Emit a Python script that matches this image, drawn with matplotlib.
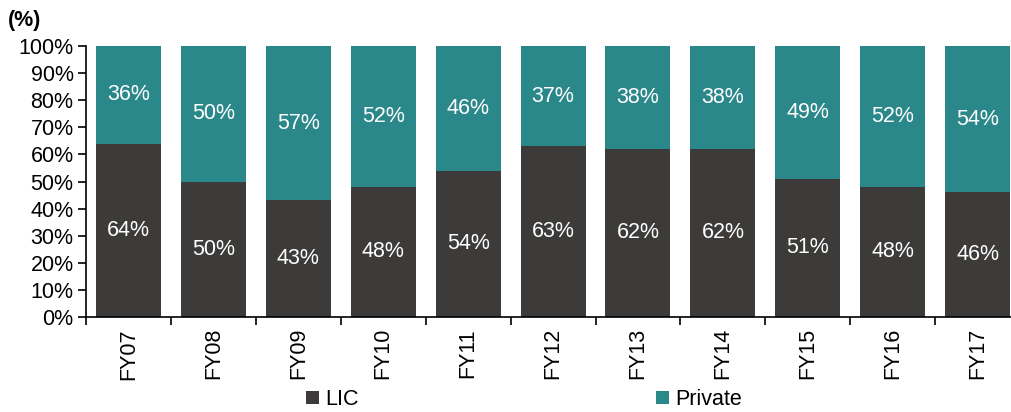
import matplotlib.pyplot as plt
import numpy as np

plt.rcParams['font.family'] = ['Liberation Sans', 'DejaVu Sans']

years = ["FY07", "FY08", "FY09", "FY10", "FY11", "FY12", "FY13", "FY14", "FY15", "FY16", "FY17"]
lic = [64, 50, 43, 48, 54, 63, 62, 62, 51, 48, 46]
private = [36, 50, 57, 52, 46, 37, 38, 38, 49, 52, 54]

c_lic = "#3c3b3a"
c_priv = "#2a878a"
fs = 15.5

fig = plt.figure(figsize=(10.12, 4.12), dpi=100)
ax = fig.add_axes([0.085, 0.2306, 0.923, 0.6577])

x = np.arange(len(years))
b1 = ax.bar(x, lic, width=0.766, color=c_lic, label="LIC")
b2 = ax.bar(x, private, width=0.766, bottom=lic, color=c_priv, label="Private")

for i in range(len(years)):
    ax.text(x[i], lic[i] / 2, f"{lic[i]}%", ha="center", va="center", color="white", fontsize=fs)
    ax.text(x[i], lic[i] + private[i] / 2, f"{private[i]}%", ha="center", va="center", color="white", fontsize=fs)

ax.set_xlim(-0.5, len(years) - 0.5)
ax.set_ylim(0, 100)
ax.set_yticks(np.arange(0, 101, 10))
ax.set_yticklabels([f"{v}%" for v in range(0, 101, 10)], fontsize=fs)
ax.set_xticks(x)
ax.set_xticklabels(years, rotation=90, fontsize=fs)
ax.tick_params(axis="x", which="major", length=0, pad=8)
ax.set_xticks(np.arange(-0.5, len(years), 1), minor=True)
ax.tick_params(axis="x", which="minor", length=6, width=1.2, direction="out")
ax.tick_params(axis="y", length=6, width=1.2, direction="out", pad=3)
ax.spines["top"].set_visible(False)
ax.spines["right"].set_visible(False)
ax.spines["left"].set_linewidth(1.2)
ax.spines["bottom"].set_linewidth(1.2)

fig.text(0.008, 0.95, "(%)", fontsize=fs, fontweight="bold", ha="left", va="center")

fig.legend(handles=[b1, b2], labels=["LIC", "Private"], loc="center", bbox_to_anchor=(0.518, 0.03),
           ncol=2, frameon=False, fontsize=fs, handlelength=0.6, handleheight=0.6,
           handletextpad=0.3, columnspacing=13.8)

fig.savefig("out.png", dpi=100)
